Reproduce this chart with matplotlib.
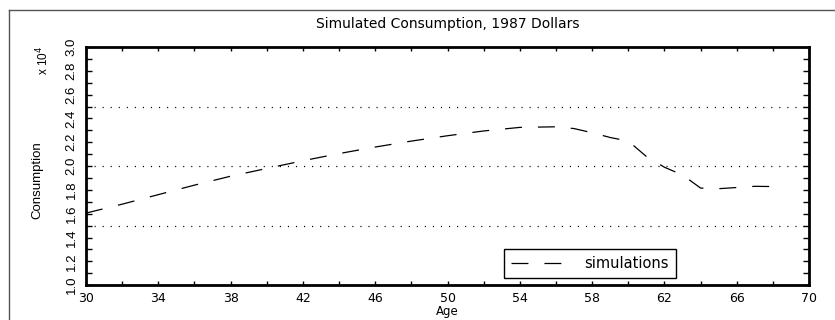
import matplotlib.pyplot as plt
from matplotlib.lines import Line2D
from matplotlib.ticker import MultipleLocator

plt.rcParams['lines.scale_dashes'] = False

# Simulated consumption by age (1987 dollars)
ages = [30, 32, 34, 36, 38, 40, 42, 44, 46, 48, 50, 52, 54, 56, 57, 58,
        59, 60, 61, 62, 63, 64, 65, 66, 67, 68]
consumption = [16050, 16800, 17600, 18400, 19150, 19800, 20450, 21050,
               21600, 22100, 22550, 22950, 23250, 23300, 23150, 22800,
               22400, 22100, 20800, 19900, 19250, 18150, 18100, 18200,
               18300, 18280]
grid_levels = [1.5, 2.0, 2.5]
x_ticks = list(range(30, 71, 4))
y_ticks = [1.0, 1.2, 1.4, 1.6, 1.8, 2.0, 2.2, 2.4, 2.6, 2.8, 3.0]

narrow = ['Liberation Sans Narrow', 'Liberation Sans', 'DejaVu Sans']

fig = plt.figure(figsize=(8.35, 3.2), dpi=100)
ax = fig.add_axes([0.103, 0.109, 0.866, 0.744])

# outer frame (only top and left edges are visible in the picture)
fig.add_artist(Line2D([9 / 835, 1.0], [1 - 10 / 320, 1 - 10 / 320],
                      transform=fig.transFigure, color='#555555', lw=1))
fig.add_artist(Line2D([9 / 835, 9 / 835], [0.0, 1 - 10 / 320],
                      transform=fig.transFigure, color='#555555', lw=1))

for g in grid_levels:
    ax.axhline(g, color='black', lw=0.9, linestyle=(0, (0.8, 5.0)), zorder=1)

ax.plot(ages, [c / 1e4 for c in consumption], color='black', lw=0.9,
        linestyle=(0, (12.2, 11.5)), label='simulations', zorder=2)

ax.set_xlim(30, 70)
ax.set_ylim(1.0, 3.0)
ax.set_xticks(x_ticks)
ax.xaxis.set_minor_locator(MultipleLocator(2))
ax.yaxis.set_minor_locator(MultipleLocator(0.1))
ax.tick_params(which='both', direction='in', top=True, right=True,
               width=1, color='black')
ax.tick_params(axis='x', which='both', length=3, pad=5, labelsize=9)
ax.tick_params(axis='y', which='both', length=4, pad=6)
for s in ax.spines.values():
    s.set_linewidth(2)

ax.set_yticks(y_ticks)
ax.set_yticklabels(['%.1f' % v for v in y_ticks],
                   rotation=90, va='center', family=narrow, fontsize=9.5)

ax.set_title('Simulated Consumption, 1987 Dollars', fontsize=10, pad=14)
ax.set_xlabel('Age', fontsize=8.5, labelpad=0)
fig.text(37 / 835, 1 - 180 / 320, 'Consumption', rotation=90, ha='center',
         va='center', family=narrow, fontsize=9.5)
fig.text(43 / 835, 1 - 60 / 320, r'x 10$^4$', rotation=90, ha='center',
         va='center', family=narrow, fontsize=8.5)

leg = ax.legend(loc='center', bbox_to_anchor=(0.697, 0.090), fontsize=10.5,
                frameon=True, fancybox=False, framealpha=1, edgecolor='black',
                handlelength=3.6, handletextpad=1.4, borderpad=0.5,
                borderaxespad=0)
leg.get_frame().set_linewidth(1)

fig.savefig('out.png', dpi=100)
